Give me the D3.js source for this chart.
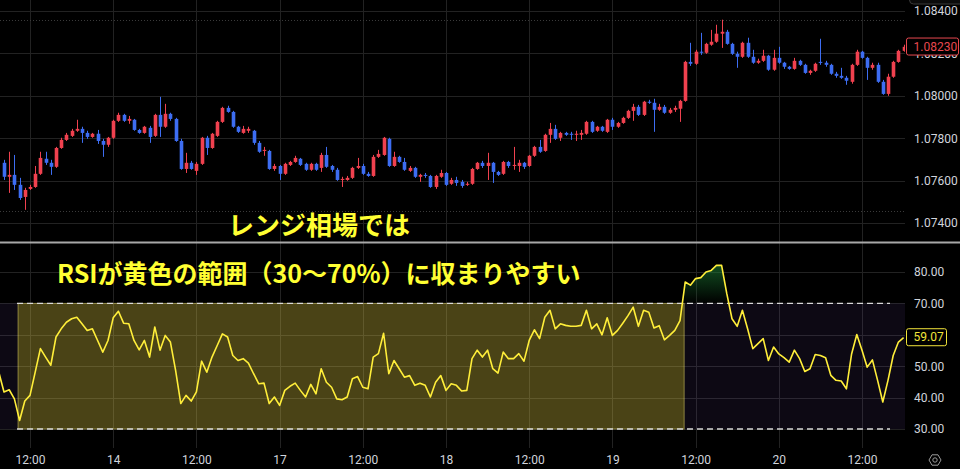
<!DOCTYPE html>
<html>
<meta charset="utf-8">
<script src="https://cdn.jsdelivr.net/npm/d3@7"></script>
<style>
    body { margin: 0; background: #000; }
    svg { display: block; }
    .axis text { font-family: Roboto, "Noto Sans", sans-serif; font-size: 12px; fill: #d1d4dc; }
    .note { font-family: "Noto Sans CJK JP", sans-serif; font-weight: 700; fill: #ffff33; }
</style>
<body>
<svg width="960" height="469"></svg>
<script>
    // 45-minute candles, [open, high, low, close]
    const ohlc = [
        [1.07684,1.07698,1.07603,1.07618],[1.07618,1.07736,1.07542,1.07627],[1.07627,1.07721,1.07556,1.07580],[1.07580,1.07613,1.07509,1.07518],
        [1.07523,1.07566,1.07462,1.07556],[1.07561,1.07580,1.07556,1.07570],[1.07570,1.07669,1.07566,1.07632],[1.07632,1.07736,1.07627,1.07707],
        [1.07703,1.07736,1.07674,1.07684],[1.07684,1.07698,1.07627,1.07665],[1.07665,1.07759,1.07660,1.07754],[1.07754,1.07802,1.07750,1.07792],
        [1.07792,1.07825,1.07787,1.07816],[1.07811,1.07844,1.07806,1.07835],[1.07835,1.07887,1.07830,1.07844],[1.07844,1.07854,1.07778,1.07825],
        [1.07825,1.07835,1.07797,1.07806],[1.07806,1.07825,1.07802,1.07821],[1.07821,1.07839,1.07773,1.07787],[1.07787,1.07797,1.07712,1.07769],
        [1.07769,1.07806,1.07759,1.07802],[1.07802,1.07887,1.07797,1.07882],[1.07882,1.07920,1.07877,1.07910],[1.07910,1.07915,1.07877,1.07882],
        [1.07882,1.07905,1.07868,1.07891],[1.07887,1.07891,1.07835,1.07839],[1.07839,1.07844,1.07821,1.07825],[1.07825,1.07858,1.07821,1.07854],
        [1.07849,1.07858,1.07778,1.07806],[1.07811,1.07915,1.07806,1.07910],[1.07910,1.07995,1.07806,1.07854],[1.07854,1.07962,1.07849,1.07915],
        [1.07915,1.07920,1.07882,1.07891],[1.07891,1.07896,1.07783,1.07787],[1.07787,1.07797,1.07651,1.07655],[1.07655,1.07731,1.07636,1.07684],
        [1.07684,1.07693,1.07651,1.07655],[1.07646,1.07688,1.07627,1.07679],[1.07679,1.07806,1.07674,1.07802],[1.07802,1.07811,1.07721,1.07754],
        [1.07754,1.07825,1.07750,1.07821],[1.07811,1.07882,1.07806,1.07877],[1.07877,1.07948,1.07872,1.07943],[1.07943,1.07953,1.07920,1.07924],
        [1.07924,1.07929,1.07849,1.07854],[1.07854,1.07858,1.07825,1.07830],[1.07825,1.07858,1.07821,1.07844],[1.07835,1.07854,1.07825,1.07844],
        [1.07835,1.07839,1.07769,1.07778],[1.07778,1.07787,1.07731,1.07736],[1.07740,1.07759,1.07717,1.07745],[1.07740,1.07745,1.07651,1.07655],
        [1.07655,1.07679,1.07646,1.07669],[1.07669,1.07674,1.07603,1.07632],[1.07632,1.07684,1.07627,1.07679],[1.07674,1.07693,1.07669,1.07688],
        [1.07688,1.07717,1.07684,1.07707],[1.07703,1.07707,1.07669,1.07674],[1.07679,1.07684,1.07646,1.07651],[1.07651,1.07684,1.07646,1.07679],
        [1.07679,1.07684,1.07646,1.07651],[1.07660,1.07731,1.07641,1.07721],[1.07721,1.07759,1.07660,1.07665],[1.07669,1.07674,1.07641,1.07651],
        [1.07651,1.07660,1.07599,1.07603],[1.07603,1.07618,1.07570,1.07608],[1.07603,1.07622,1.07599,1.07613],[1.07613,1.07665,1.07608,1.07660],
        [1.07660,1.07707,1.07655,1.07669],[1.07669,1.07679,1.07627,1.07632],[1.07632,1.07641,1.07618,1.07622],[1.07622,1.07721,1.07618,1.07712],
        [1.07712,1.07745,1.07707,1.07726],[1.07721,1.07806,1.07717,1.07802],[1.07797,1.07802,1.07665,1.07669],[1.07669,1.07736,1.07665,1.07712],
        [1.07712,1.07717,1.07684,1.07688],[1.07688,1.07707,1.07646,1.07651],[1.07646,1.07669,1.07641,1.07660],[1.07660,1.07665,1.07613,1.07618],
        [1.07618,1.07632,1.07594,1.07627],[1.07627,1.07636,1.07613,1.07622],[1.07622,1.07627,1.07566,1.07570],[1.07570,1.07627,1.07561,1.07622],
        [1.07618,1.07651,1.07613,1.07636],[1.07636,1.07641,1.07575,1.07580],[1.07585,1.07613,1.07580,1.07603],[1.07603,1.07618,1.07575,1.07589],
        [1.07594,1.07603,1.07566,1.07575],[1.07580,1.07594,1.07575,1.07585],[1.07585,1.07660,1.07580,1.07655],[1.07655,1.07688,1.07651,1.07684],
        [1.07684,1.07693,1.07660,1.07669],[1.07669,1.07731,1.07603,1.07684],[1.07684,1.07688,1.07589,1.07641],[1.07641,1.07646,1.07622,1.07627],
        [1.07632,1.07693,1.07627,1.07688],[1.07688,1.07693,1.07660,1.07669],[1.07669,1.07759,1.07651,1.07674],[1.07669,1.07698,1.07641,1.07684],
        [1.07684,1.07688,1.07655,1.07665],[1.07669,1.07721,1.07665,1.07717],[1.07717,1.07764,1.07712,1.07759],[1.07759,1.07792,1.07731,1.07736],
        [1.07740,1.07821,1.07736,1.07816],[1.07816,1.07872,1.07778,1.07844],[1.07844,1.07863,1.07792,1.07797],[1.07802,1.07830,1.07787,1.07825],
        [1.07825,1.07830,1.07811,1.07816],[1.07821,1.07830,1.07792,1.07816],[1.07816,1.07835,1.07787,1.07821],[1.07816,1.07839,1.07792,1.07825],
        [1.07821,1.07882,1.07816,1.07877],[1.07877,1.07882,1.07825,1.07830],[1.07835,1.07858,1.07830,1.07854],[1.07854,1.07858,1.07830,1.07835],
        [1.07830,1.07891,1.07825,1.07887],[1.07887,1.07896,1.07839,1.07854],[1.07854,1.07877,1.07849,1.07872],[1.07872,1.07901,1.07868,1.07896],
        [1.07896,1.07934,1.07891,1.07929],[1.07929,1.07962,1.07882,1.07948],[1.07948,1.07957,1.07905,1.07910],[1.07910,1.07976,1.07905,1.07972],
        [1.07972,1.07981,1.07962,1.07967],[1.07967,1.07986,1.07830,1.07934],[1.07934,1.07962,1.07929,1.07948],[1.07948,1.07957,1.07915,1.07920],
        [1.07920,1.07943,1.07915,1.07934],[1.07934,1.07953,1.07924,1.07943],[1.07939,1.07981,1.07877,1.07976],[1.07976,1.08165,1.07972,1.08160],
        [1.08160,1.08250,1.08141,1.08151],[1.08151,1.08217,1.08146,1.08208],[1.08208,1.08297,1.08193,1.08203],[1.08203,1.08250,1.08198,1.08245],
        [1.08241,1.08311,1.08236,1.08255],[1.08255,1.08335,1.08250,1.08293],[1.08293,1.08359,1.08226,1.08302],[1.08302,1.08311,1.08241,1.08245],
        [1.08245,1.08250,1.08193,1.08198],[1.08198,1.08208,1.08132,1.08184],[1.08184,1.08255,1.08179,1.08250],[1.08250,1.08274,1.08179,1.08184],
        [1.08184,1.08217,1.08151,1.08156],[1.08156,1.08175,1.08151,1.08165],[1.08165,1.08217,1.08160,1.08189],[1.08189,1.08193,1.08118,1.08123],
        [1.08123,1.08217,1.08118,1.08179],[1.08179,1.08231,1.08151,1.08156],[1.08156,1.08160,1.08127,1.08137],[1.08137,1.08141,1.08123,1.08127],
        [1.08127,1.08179,1.08123,1.08165],[1.08165,1.08170,1.08141,1.08146],[1.08146,1.08151,1.08104,1.08108],[1.08108,1.08123,1.08099,1.08118],
        [1.08118,1.08156,1.08113,1.08151],[1.08160,1.08269,1.08146,1.08156],[1.08156,1.08165,1.08137,1.08146],[1.08146,1.08151,1.08099,1.08104],
        [1.08104,1.08113,1.08085,1.08094],[1.08094,1.08132,1.08080,1.08085],[1.08085,1.08094,1.08052,1.08071],[1.08066,1.08151,1.08057,1.08146],
        [1.08146,1.08217,1.08141,1.08208],[1.08208,1.08212,1.08175,1.08179],[1.08179,1.08184,1.08075,1.08132],[1.08132,1.08156,1.08123,1.08146],
        [1.08146,1.08156,1.08061,1.08066],[1.08066,1.08075,1.08005,1.08009],[1.08009,1.08104,1.08000,1.08090],[1.08090,1.08165,1.08085,1.08160],
        [1.08160,1.08217,1.08156,1.08212],[1.08212,1.08241,1.08208,1.08231]
    ];

    // RSI(14); first value belongs to the bar just left of the view
    const rsiStart = -1;
    const rsi = [
        48.1, 41.8, 42.5, 39.6, 32.7, 38.9, 40.7, 48.1, 55.6, 52.9, 50.3, 59.3, 61.9, 64.0, 65.1, 65.6, 63.5, 61.4, 61.9, 58.2,
        54.5, 58.2, 65.4, 67.5, 63.7, 63.5, 58.2, 55.2, 58.2, 52.9, 62.5, 55.1, 59.8, 57.7, 48.7, 38.1, 40.7, 38.9, 41.8, 51.6,
        48.1, 52.9, 56.6, 60.3, 59.3, 53.4, 51.8, 52.4, 51.0, 47.6, 44.4, 44.6, 38.1, 40.2, 37.5, 42.3, 43.6, 44.6, 42.3, 40.2,
        44.2, 41.2, 49.2, 44.9, 43.3, 39.6, 39.3, 40.2, 46.0, 46.7, 43.3, 42.8, 52.9, 54.0, 60.5, 47.6, 51.8, 49.2, 46.5, 47.0,
        43.9, 44.6, 43.9, 40.2, 44.9, 47.0, 42.3, 44.4, 43.9, 42.1, 42.3, 52.4, 55.1, 52.9, 55.1, 49.2, 47.8, 54.5, 52.4, 52.4,
        54.0, 51.6, 58.2, 61.6, 58.8, 65.6, 67.8, 61.9, 63.5, 63.0, 62.7, 62.7, 63.0, 67.8, 61.9, 63.5, 60.0, 65.4, 59.8, 61.4,
        63.7, 66.1, 68.8, 62.7, 67.8, 67.2, 62.2, 62.9, 58.4, 59.8, 61.4, 64.5, 76.8, 75.8, 77.9, 78.2, 80.0, 80.5, 82.1, 82.1,
        73.1, 65.1, 62.7, 67.8, 61.9, 55.6, 57.2, 58.8, 51.8, 56.1, 53.9, 52.7, 51.3, 55.1, 52.4, 48.3, 49.2, 53.7, 53.4, 52.7,
        47.1, 45.5, 45.3, 42.8, 53.9, 60.1, 55.1, 49.7, 52.0, 45.5, 38.6, 45.5, 53.4, 57.7, 59.07
    ];

    const timeTicks = [5, 21, 37, 53, 69, 85, 101, 117, 133, 149, 165];
    const timeLabels = ["12:00", "14", "12:00", "17", "12:00", "18", "12:00", "19", "12:00", "20", "12:00"];
    const priceTicks = [1.074, 1.076, 1.078, 1.080, 1.082, 1.084];
    const rsiTicks = [30, 40, 50, 60, 70, 80];
    const rsiLabelTicks = [30, 40, 50, 70, 80];   // 60 sits under the value tag
    const rsiBands = [70, 30];
    const lastPrice = 1.08230;
    const highlight = [2.7, 130.8];   // bar range covered by the yellow box
    const noteTop = "レンジ相場では";
    const noteBottom = "RSIが黄色の範囲（30～70%）に収まりやすい";

    const upColor = "#f0414f", downColor = "#3d6df2", rsiColor = "#ffee3a";

    const svg = d3.select("svg");
    const plotRight = 905, priceBottom = 241, rsiTop = 244, rsiBottom = 448;

    const x = d3.scaleLinear().domain([0, ohlc.length - 1]).range([4, 4 + 5.2 * (ohlc.length - 1)]);
    const y = d3.scaleLinear().domain([1.074, 1.084]).range([223, 11]);
    const yr = d3.scaleLinear().domain([30, 80]).range([429, 272]);

    const defs = svg.append("defs");
    defs.append("clipPath").attr("id", "clipPrice").append("rect").attr("width", plotRight).attr("height", priceBottom);
    defs.append("clipPath").attr("id", "clipRsi").append("rect").attr("y", rsiTop).attr("width", plotRight).attr("height", rsiBottom - rsiTop);
    defs.append("clipPath").attr("id", "clipOver").append("rect").attr("y", rsiTop).attr("width", plotRight).attr("height", yr(70) - rsiTop);
    const grad = defs.append("linearGradient").attr("id", "obFill").attr("gradientUnits", "userSpaceOnUse")
        .attr("x1", 0).attr("x2", 0).attr("y1", yr(83)).attr("y2", yr(70));
    grad.append("stop").attr("offset", 0).attr("stop-color", "#1f8a3a").attr("stop-opacity", 0.6);
    grad.append("stop").attr("offset", 1).attr("stop-color", "#1f8a3a").attr("stop-opacity", 0);

    svg.append("rect").attr("width", 960).attr("height", 469).attr("fill", "#000");

    // grid
    const grid = svg.append("g").attr("stroke", "#222").attr("stroke-width", 1);
    grid.selectAll("line.v").data(timeTicks).enter().append("line")
        .attr("x1", d => Math.round(x(d)) + 0.5).attr("x2", d => Math.round(x(d)) + 0.5)
        .attr("y1", 0).attr("y2", rsiBottom);
    grid.selectAll("line.hp").data(priceTicks).enter().append("line")
        .attr("x1", 0).attr("x2", plotRight)
        .attr("y1", d => Math.round(y(d)) + 0.5).attr("y2", d => Math.round(y(d)) + 0.5);
    [20, 211].forEach(v => svg.append("line").attr("x1", 0).attr("x2", plotRight).attr("y1", v + 0.5).attr("y2", v + 0.5)
        .attr("stroke", "#3a3a3a").attr("stroke-dasharray", "1,2"));

    // RSI background band
    svg.append("rect").attr("x", 0).attr("width", plotRight)
        .attr("y", yr(70)).attr("height", yr(30) - yr(70)).attr("fill", "#7e57c2").attr("fill-opacity", 0.1);
    grid.selectAll("line.hr").data(rsiTicks).enter().append("line")
        .attr("x1", 0).attr("x2", plotRight)
        .attr("y1", d => Math.round(yr(d)) + 0.5).attr("y2", d => Math.round(yr(d)) + 0.5);

    // candles
    const candles = svg.append("g").attr("clip-path", "url(#clipPrice)");
    const bar = candles.selectAll("g").data(ohlc).enter().append("g");
    bar.append("line")
        .attr("x1", (d, i) => Math.round(x(i)) + 0.5).attr("x2", (d, i) => Math.round(x(i)) + 0.5)
        .attr("y1", d => y(d[1])).attr("y2", d => y(d[2]))
        .attr("stroke", d => d[3] >= d[0] ? upColor : downColor);
    bar.append("rect")
        .attr("x", (d, i) => Math.round(x(i)) - 1.3).attr("width", 3.6)
        .attr("y", d => y(Math.max(d[0], d[3])))
        .attr("height", d => Math.max(1, Math.abs(y(d[0]) - y(d[3]))))
        .attr("fill", d => d[3] >= d[0] ? upColor : downColor);

    // yellow highlight box
    svg.append("rect")
        .attr("x", x(highlight[0])).attr("width", x(highlight[1]) - x(highlight[0]))
        .attr("y", yr(70)).attr("height", yr(30) - yr(70))
        .attr("fill", "#f0e11e").attr("fill-opacity", 0.27)
        .attr("stroke", "#fff27a").attr("stroke-opacity", 0.45);

    // band lines
    svg.selectAll("line.band").data(rsiBands).enter().append("line")
        .attr("x1", 17).attr("x2", 890)
        .attr("y1", d => yr(d)).attr("y2", d => yr(d))
        .attr("stroke", "#d8d8d8").attr("stroke-width", 1.3).attr("stroke-dasharray", "6,4");

    // RSI
    const rsiG = svg.append("g").attr("clip-path", "url(#clipRsi)");
    rsiG.append("path").datum(rsi)
        .attr("clip-path", "url(#clipOver)")
        .attr("fill", "url(#obFill)")
        .attr("d", d3.area().x((d, i) => x(i + rsiStart)).y0(yr(70)).y1(d => yr(d)));
    rsiG.append("path").datum(rsi)
        .attr("fill", "none").attr("stroke", rsiColor).attr("stroke-width", 1.6).attr("stroke-linejoin", "round")
        .attr("d", d3.line().x((d, i) => x(i + rsiStart)).y(d => yr(d)));

    // separator
    svg.append("line").attr("x1", 0).attr("x2", 960).attr("y1", 242.5).attr("y2", 242.5)
        .attr("stroke", "#a8a8a8").attr("stroke-width", 2);

    // axes
    const priceAxis = svg.append("g").attr("class", "axis").attr("transform", `translate(${plotRight},0)`)
        .call(d3.axisRight(y).tickValues(priceTicks).tickFormat(d3.format(".5f")).tickSize(0).tickPadding(9));
    const rsiAxis = svg.append("g").attr("class", "axis").attr("transform", `translate(${plotRight},0)`)
        .call(d3.axisRight(yr).tickValues(rsiLabelTicks).tickFormat(d3.format(".2f")).tickSize(0).tickPadding(9));
    const timeAxis = svg.append("g").attr("class", "axis").attr("transform", `translate(0,${rsiBottom})`)
        .call(d3.axisBottom(x).tickValues(timeTicks).tickFormat((d, i) => timeLabels[i]).tickSize(0).tickPadding(7));
    [priceAxis, rsiAxis, timeAxis].forEach(g => g.select(".domain").remove());

    // top-right toolbar edge
    svg.append("rect").attr("x", 909.5).attr("y", -14).attr("width", 60).attr("height", 18).attr("rx", 4)
        .attr("fill", "#0b0b0b").attr("stroke", "#3a3a3a");

    // last value labels
    function valueTag(yPos, label, color, w) {
        const g = svg.append("g").attr("transform", `translate(${plotRight + 1.5},${yPos})`);
        g.append("rect").attr("x", 0).attr("y", -9).attr("width", w).attr("height", 17).attr("rx", 2)
            .attr("fill", "#000").attr("stroke", color);
        g.append("text").attr("x", 7).attr("y", -0.5).attr("dy", "0.35em").attr("fill", color)
            .style("font-family", "Roboto, sans-serif").style("font-size", "12px").text(label);
    }
    valueTag(y(lastPrice), d3.format(".5f")(lastPrice), "#e8484f", 52);
    valueTag(yr(rsi[rsi.length - 1]), d3.format(".2f")(rsi[rsi.length - 1]), "#f2e43a", 40);

    // settings icon
    const gear = svg.append("g").attr("transform", "translate(935,460)").attr("fill", "none").attr("stroke", "#9a9a9a");
    gear.append("path").attr("d", d3.range(6).map(k => {
        const a = Math.PI / 3 * k;
        return (k ? "L" : "M") + (6 * Math.cos(a)).toFixed(2) + "," + (6 * Math.sin(a)).toFixed(2);
    }).join("") + "Z");
    gear.append("circle").attr("r", 2.2);

    // annotations
    svg.append("text").attr("class", "note").style("font-size", "26px").attr("x", 228).attr("y", 235).text(noteTop);
    svg.append("text").attr("class", "note").style("font-size", "25px").attr("x", 57).attr("y", 283).text(noteBottom);
</script>
</body>
</html>
